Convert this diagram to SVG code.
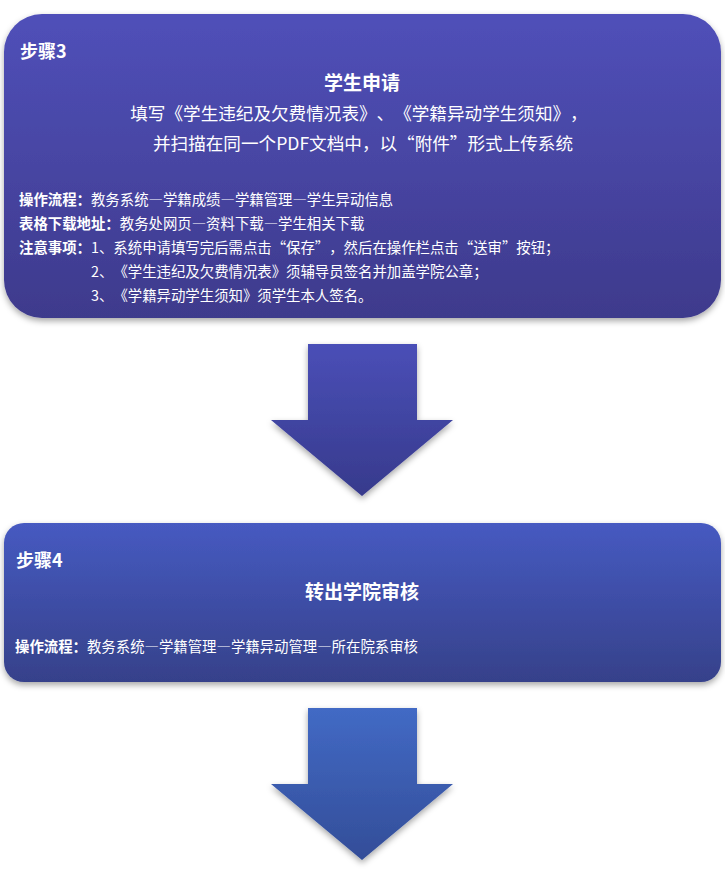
<svg xmlns="http://www.w3.org/2000/svg" width="725" height="869" viewBox="0 0 725 869">
<style>
text{font-family:"Noto Sans CJK SC","Liberation Serif",sans-serif;fill:#ffffff;font-feature-settings:"fwid";text-spacing-trim:space-all;}
.n{font-feature-settings:normal;}
.step{font-size:18px;font-weight:bold;}
.title{font-size:19px;font-weight:bold;}
.big{font-size:17.6px;}
.small{font-size:14.4px;}
.b{font-weight:bold;}
</style>
<defs>
<linearGradient id="g1" x1="0" y1="0" x2="0" y2="1">
<stop offset="0" stop-color="#5050b9"/>
<stop offset="1" stop-color="#3e3a8c"/>
</linearGradient>
<linearGradient id="g2" x1="0" y1="0" x2="0" y2="1">
<stop offset="0" stop-color="#465ac1"/>
<stop offset="1" stop-color="#36418a"/>
</linearGradient>
<linearGradient id="a1" x1="0" y1="0" x2="0" y2="1">
<stop offset="0" stop-color="#4a4fb7"/>
<stop offset="1" stop-color="#373a8c"/>
</linearGradient>
<linearGradient id="a2" x1="0" y1="0" x2="0" y2="1">
<stop offset="0" stop-color="#426ac5"/>
<stop offset="1" stop-color="#334d98"/>
</linearGradient>
<filter id="sh" x="-5%" y="-5%" width="110%" height="115%">
<feDropShadow dx="0" dy="3" stdDeviation="3" flood-color="#000" flood-opacity="0.35"/>
</filter>
</defs>
<g id="step3">
<rect x="4" y="14" width="717" height="304" rx="38" ry="38" fill="url(#g1)" filter="url(#sh)"/>
<text class="step" x="20" y="58">步骤<tspan class="n">3</tspan></text>
<text class="title" x="362" y="90" text-anchor="middle">学生申请</text>
<text class="big" x="359" y="120" text-anchor="middle">填写《学生违纪及欠费情况表》、《学籍异动学生须知》，</text>
<text class="big" x="363" y="150" text-anchor="middle">并扫描在同一个<tspan class="n">PDF</tspan>文档中，以“附件”形式上传系统</text>
<text class="small" x="19" y="205"><tspan class="b">操作流程：</tspan>教务系统—学籍成绩—学籍管理—学生异动信息</text>
<text class="small" x="19" y="229"><tspan class="b">表格下载地址：</tspan>教务处网页—资料下载—学生相关下载</text>
<text class="small" x="19" y="253"><tspan class="b">注意事项：</tspan><tspan class="n">1</tspan>、系统申请填写完后需点击“保存”，然后在操作栏点击“送审”按钮；</text>
<text class="small" x="91" y="277"><tspan class="n">2</tspan>、《学生违纪及欠费情况表》须辅导员签名并加盖学院公章；</text>
<text class="small" x="91" y="301"><tspan class="n">3</tspan>、《学籍异动学生须知》须学生本人签名。</text>
</g>
<g id="step4">
<rect x="4" y="523" width="717" height="159" rx="20" ry="20" fill="url(#g2)" filter="url(#sh)"/>
<text class="step" x="16" y="567">步骤<tspan class="n">4</tspan></text>
<text class="title" x="362" y="599" text-anchor="middle">转出学院审核</text>
<text class="small" x="15" y="652"><tspan class="b">操作流程：</tspan>教务系统—学籍管理—学籍异动管理—所在院系审核</text>
</g>
<g id="connectors">
<polygon points="308,344 417,344 417,420 453,420 362,496 271,420 308,420" fill="url(#a1)" filter="url(#sh)"/>
<polygon points="308,708 417,708 417,784 453,784 362,860 271,784 308,784" fill="url(#a2)" filter="url(#sh)"/>
</g>
</svg>
